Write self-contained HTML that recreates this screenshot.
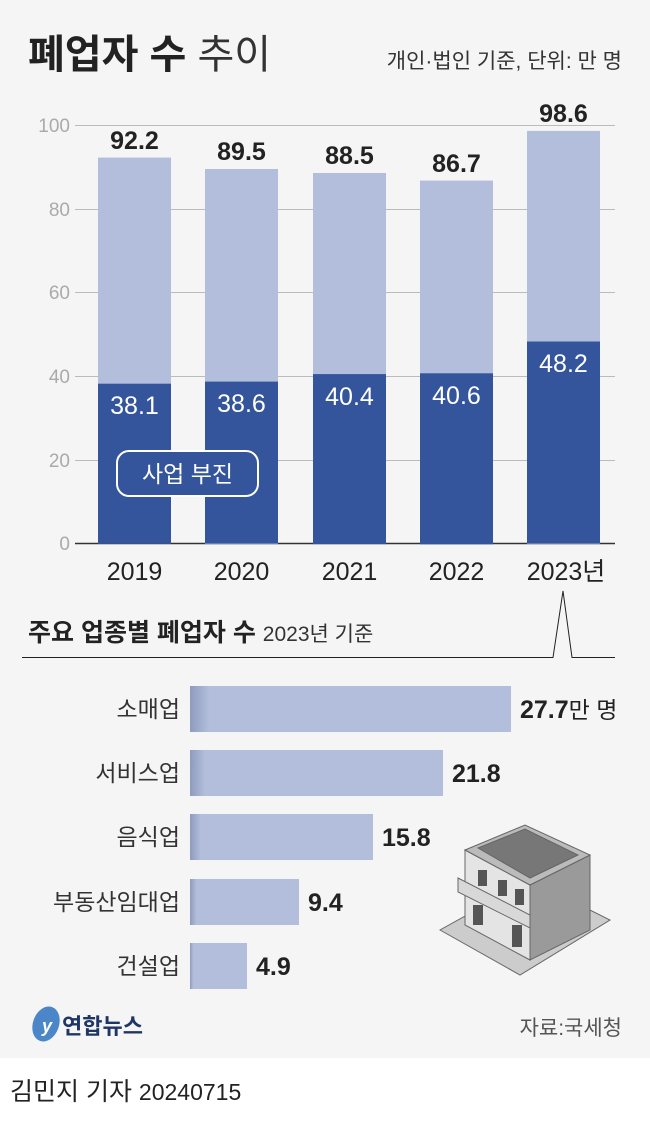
<!DOCTYPE html>
<html><head><meta charset="utf-8"><style>
body{margin:0;width:650px;height:1121px;background:#fff;overflow:hidden;font-family:"Liberation Sans","Noto Sans CJK KR",sans-serif}
</style></head><body>
<svg width="650" height="1121" xmlns="http://www.w3.org/2000/svg" font-family="'Liberation Sans','Noto Sans CJK KR',sans-serif">
<rect x="0" y="0" width="650" height="1058" fill="#f5f5f5"/>
<text x="28" y="68" font-size="40" font-weight="bold" fill="#222">폐업자 수 <tspan font-weight="normal" fill="#333">추이</tspan></text>
<text x="622" y="68" font-size="21" fill="#333" text-anchor="end">개인·법인 기준, 단위: 만 명</text>
<g stroke="#bbb" stroke-width="1">
<line x1="75" y1="125.5" x2="615" y2="125.5"/><line x1="75" y1="209.5" x2="615" y2="209.5"/>
<line x1="75" y1="292.5" x2="615" y2="292.5"/><line x1="75" y1="376.5" x2="615" y2="376.5"/>
<line x1="75" y1="460.5" x2="615" y2="460.5"/>
</g>
<line x1="75" y1="543.5" x2="615" y2="543.5" stroke="#333" stroke-width="1.5"/>
<g font-size="19" fill="#aaa" text-anchor="end">
<text x="70" y="132">100</text><text x="70" y="216">80</text><text x="70" y="299">60</text><text x="70" y="383">40</text><text x="70" y="467">20</text><text x="70" y="550">0</text>
</g>
<g fill="#b3bedc">
<rect x="98" y="157.6" width="73" height="386"/><rect x="205" y="169" width="73" height="375"/>
<rect x="313" y="173" width="73" height="371"/><rect x="420" y="180.6" width="73" height="363"/>
<rect x="527" y="130.9" width="73" height="413"/>
</g>
<g fill="#34559b">
<rect x="98" y="383.7" width="73" height="160"/><rect x="205" y="381.6" width="73" height="162"/>
<rect x="313" y="374.1" width="73" height="170"/><rect x="420" y="373.3" width="73" height="171"/>
<rect x="527" y="341.5" width="73" height="202"/>
</g>
<g font-size="25" font-weight="bold" fill="#222" text-anchor="middle">
<text x="134.5" y="149">92.2</text><text x="241.5" y="160">89.5</text><text x="349.5" y="164">88.5</text><text x="456.5" y="172">86.7</text><text x="563.5" y="122">98.6</text>
</g>
<g font-size="25" fill="#fff" text-anchor="middle">
<text x="134.5" y="414">38.1</text><text x="241.5" y="412">38.6</text><text x="349.5" y="405">40.4</text><text x="456.5" y="404">40.6</text><text x="563.5" y="372">48.2</text>
</g>
<rect x="117" y="451" width="141" height="45" rx="12" fill="#34559b" stroke="#fff" stroke-width="2"/>
<text x="187.5" y="482" font-size="23" fill="#fff" text-anchor="middle">사업 부진</text>
<g font-size="25" fill="#222" text-anchor="middle">
<text x="134.5" y="580">2019</text><text x="241.5" y="580">2020</text><text x="349.5" y="580">2021</text><text x="456.5" y="580">2022</text><text x="566" y="580">2023년</text>
</g>
<text x="28" y="641" font-size="25" font-weight="bold" fill="#222">주요 업종별 폐업자 수 <tspan font-size="21" font-weight="normal" fill="#333">2023년 기준</tspan></text>
<polyline points="22,657.5 553,657.5 563,591 572,657.5 615,657.5" fill="none" stroke="#222" stroke-width="1"/>
<defs><linearGradient id="g" x1="0" x2="1"><stop offset="0" stop-color="#8e9bbd"/><stop offset="0.06" stop-color="#b3bedc"/><stop offset="1" stop-color="#b3bedc"/></linearGradient></defs>
<g fill="url(#g)">
<rect x="190" y="686" width="321" height="46"/><rect x="190" y="750" width="253" height="46"/>
<rect x="190" y="814" width="183" height="46"/><rect x="190" y="879" width="109" height="46"/>
<rect x="190" y="943" width="57" height="46"/>
</g>
<g font-size="23" fill="#333" text-anchor="end">
<text x="180" y="717">소매업</text><text x="180" y="781">서비스업</text><text x="180" y="845">음식업</text><text x="180" y="910">부동산임대업</text><text x="180" y="974">건설업</text>
</g>
<g font-size="25" font-weight="bold" fill="#222">
<text x="520" y="718">27.7<tspan font-weight="normal" font-size="23">만 명</tspan></text><text x="452" y="782">21.8</text><text x="382" y="846">15.8</text><text x="308" y="911">9.4</text><text x="256" y="975">4.9</text>
</g>
<g stroke="#666" stroke-width="1">
<polygon points="440,930 520,975 610,920 530,880" fill="#ccc"/>
<polygon points="465,850 530,885 530,960 465,925" fill="#e4e4e4"/>
<polygon points="530,885 590,855 590,930 530,960" fill="#9a9a9a"/>
<polygon points="465,850 525,825 590,855 530,885" fill="#bbb"/>
<polygon points="478,848 525,829 578,855 530,878" fill="#777"/>
<polygon points="458,878 530,915 530,928 458,892" fill="#d8d8d8"/>
</g>
<g fill="#555"><rect x="478" y="870" width="9" height="16"/><rect x="498" y="880" width="9" height="16"/><rect x="515" y="889" width="9" height="16"/><rect x="473" y="905" width="10" height="20"/><rect x="512" y="925" width="10" height="22"/></g>
<ellipse cx="46" cy="1024" rx="13" ry="18" fill="#4a86c8" transform="rotate(20 46 1024)"/>
<text x="42" y="1032" font-size="18" fill="#fff" font-style="italic" font-weight="bold">y</text>
<text x="62" y="1034" font-size="22" font-weight="bold" fill="#1f3566">연합뉴스</text>
<text x="622" y="1035" font-size="21" fill="#555" text-anchor="end">자료:국세청</text>
<text x="10" y="1100" font-size="25" fill="#222">김민지 기자 <tspan font-size="23">20240715</tspan></text>
</svg>
</body></html>
